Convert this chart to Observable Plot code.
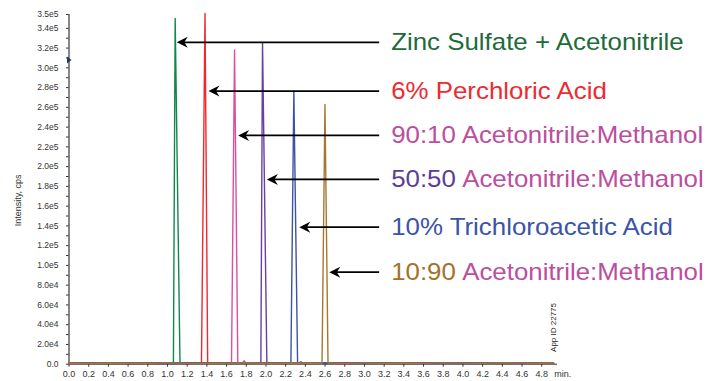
<!DOCTYPE html>
<html><head><meta charset="utf-8">
<script src="https://cdn.jsdelivr.net/npm/d3@7"></script>
<script src="https://cdn.jsdelivr.net/npm/@observablehq/plot@0.6"></script>
<style>body{margin:0;background:#fff}</style>
</head><body><div id="chart"></div>
<script>
// ---- data ----
const seriesNames = ["Zinc Sulfate + Acetonitrile","6% Perchloric Acid","90:10 Acetonitrile:Methanol","50:50 Acetonitrile:Methanol","10% Trichloroacetic Acid","10:90 Acetonitrile:Methanol"];
const lineColors = ["#13874b","#f0282d","#dc4f9e","#6b3fa0","#3b53a4","#a5782e"];
const peakStart  = [1.060, 1.345, 1.650, 1.948, 2.253, 2.569];
const peakApex   = [1.078, 1.381, 1.681, 1.965, 2.283, 2.599];
const peakEnd    = [1.127, 1.408, 1.714, 2.009, 2.321, 2.630];
const peakHeight = [350000, 355000, 318000, 325500, 276000, 263000];
const baseTimes = [0.0,0.2,0.4,0.6,0.8,1.0,1.2,1.4,1.6,1.8,2.0,2.2,2.4,2.6,2.8,3.0,3.2,3.4,3.6,3.8,4.0,4.2,4.4,4.6,4.8,4.92];
const baseNoise = [
  [900,1200,700,1100,1400,800,1000,1300,700,1100,900,1200,800,1000,1300,700,1100,900,1200,800,1000,700,1100,900,1200,800],
  [1300,800,1100,900,1200,1400,700,1000,1200,900,1300,800,1100,1000,700,1200,900,1300,1000,800,1200,1100,800,1300,900,1000],
  [700,1400,1000,1300,800,1100,1500,900,1200,1400,1000,1300,900,1500,1100,1300,800,1400,1100,1500,900,1300,1200,1000,1400,1100],
  [1100,900,1300,700,1000,1200,900,1400,1000,800,1200,1000,1300,800,1200,1000,1300,1100,900,1200,1400,900,1000,1200,800,1100],
  [800,1100,900,1300,1000,700,1200,1000,1300,800,1100,900,700,1200,1000,800,1200,700,1100,1000,800,1200,900,800,1100,900],
  [1000,700,1200,1000,900,1300,800,1100,900,1300,700,1000,1200,900,800,1100,1000,1200,800,1300,1100,1000,1300,1100,900,1200]
];
const bumpSeries = [2, 4];
const bumpTime   = [1.778, 2.355];
const bumpHeight = [3500, 2500];

const labelMain      = ["Zinc Sulfate + Acetonitrile","6% Perchloric Acid","90:10 Acetonitrile:Methanol","50:50","10% Trichloroacetic Acid","10:90"];
const labelMainColor = ["#1e6b3b","#ee2b2f","#bb4f9e","#5b3e96","#3a55a5","#a3712a"];
const labelSuffix    = ["","","","Acetonitrile:Methanol","","Acetonitrile:Methanol"];
const suffixColor = "#bb4f9e";
const arrowTip   = [1.094, 1.416, 1.717, 2.009, 2.338, 2.643];
const arrowLevel = [325800, 276500, 231600, 187000, 138700, 93200];
const arrowTail = 3.149;
const labelTime = 3.271;

const yTickValues = [0,20000,40000,60000,80000,100000,120000,140000,160000,180000,200000,220000,240000,260000,280000,300000,320000,340000,354000];
const yTickLabels = ["0.0","2.0e4","4.0e4","6.0e4","8.0e4","1.0e5","1.2e5","1.4e5","1.6e5","1.8e5","2.0e5","2.2e5","2.4e5","2.6e5","2.8e5","3.0e5","3.2e5","3.4e5","3.5e5"];
const yMinorTicks = [10000,30000,50000,70000,90000,110000,130000,150000,170000,190000,210000,230000,250000,270000,290000,310000,330000];
const xTickValues = [0,0.2,0.4,0.6,0.8,1.0,1.2,1.4,1.6,1.8,2.0,2.2,2.4,2.6,2.8,3.0,3.2,3.4,3.6,3.8,4.0,4.2,4.4,4.6,4.8];
const xTickLabels = ["0.0","0.2","0.4","0.6","0.8","1.0","1.2","1.4","1.6","1.8","2.0","2.2","2.4","2.6","2.8","3.0","3.2","3.4","3.6","3.8","4.0","4.2","4.4","4.6","4.8"];
const xUnit = "min.";
const yTitle = "Intensity, cps";
const appId = "App ID 22775";
const markerLevel = 308000;

// ---- build tables ----
const rows = [];
seriesNames.forEach((name, i) => {
  const pts = baseTimes.map((t, j) => ({t, v: baseNoise[i][j]}))
    .filter(p => p.t < peakStart[i] - 0.03 || p.t > peakEnd[i] + 0.03);
  pts.push({t: peakStart[i], v: 900}, {t: peakApex[i], v: peakHeight[i]}, {t: peakEnd[i], v: 1200});
  bumpSeries.forEach((s, k) => {
    if (s === i) pts.push({t: bumpTime[k] - 0.02, v: 900}, {t: bumpTime[k], v: bumpHeight[k]}, {t: bumpTime[k] + 0.02, v: 900});
  });
  pts.sort((a, b) => a.t - b.t);
  pts.forEach(p => rows.push({name, i, t: p.t, v: p.v}));
});
const arrows = seriesNames.map((name, i) => ({i, tip: arrowTip[i], lvl: arrowLevel[i], main: labelMain[i], suffix: labelSuffix[i]}));

const arrowHead = {draw(ctx) { ctx.moveTo(0, 0); ctx.lineTo(11, -5.5); ctx.lineTo(7.5, 0); ctx.lineTo(11, 5.5); ctx.closePath(); }};
const axisMarker = {draw(ctx) { ctx.moveTo(-2, -3.5); ctx.lineTo(2.5, 0); ctx.lineTo(-2, 3.5); ctx.closePath(); }};

const LABEL_SIZE = 23;
const svg = Plot.plot({
  width: 707, height: 381,
  marginLeft: 68.5, marginRight: 150, marginTop: 14, marginBottom: 17.3,
  style: {fontFamily: "'Liberation Sans', Arial, Helvetica, sans-serif", background: "white", overflow: "visible"},
  x: {domain: [0, 4.96]},
  y: {domain: [0, 354000]},
  marks: [
    Plot.axisY({ticks: yMinorTicks, tickFormat: () => "", tickSize: 2.5, label: null, stroke: "#333"}),
    Plot.axisY({ticks: yTickValues, tickFormat: (d) => yTickLabels[yTickValues.indexOf(d)], tickSize: 2.5, tickPadding: 8, fontSize: 8.5, fill: "#333", stroke: "#333", label: null}),
    Plot.axisX({ticks: xTickValues, tickFormat: (d) => xTickLabels[xTickValues.indexOf(d)], tickSize: 3, tickPadding: 3, fontSize: 9, fill: "#333", stroke: "#333", label: null}),
    Plot.ruleX([0], {y1: 0, y2: 354000, stroke: "#111", strokeWidth: 1}),
    Plot.ruleY([0], {x1: 0, x2: 4.96, stroke: "#333", strokeWidth: 1}),
    Plot.line(rows, {x: "t", y: "v", z: "name", stroke: (d) => lineColors[d.i], strokeWidth: 1.4, curve: "linear"}),
    Plot.link(arrows, {x1: (d) => d.tip + 0.07, x2: arrowTail, y1: "lvl", y2: "lvl", stroke: "#000", strokeWidth: 1.8}),
    Plot.dot(arrows, {x: "tip", y: "lvl", symbol: arrowHead, fill: "#000", stroke: "none", r: 5}),
    Plot.dot([markerLevel], {x: 0, y: (d) => d, symbol: axisMarker, fill: "#2b3566", stroke: "none", r: 3}),
    Plot.text(arrows, {x: labelTime, y: "lvl", text: "main", fill: (d) => labelMainColor[d.i], textAnchor: "start", lineAnchor: "middle", dy: 7.5, fontSize: LABEL_SIZE}),
    Plot.text(arrows.filter(d => d.suffix), {x: labelTime, y: "lvl", text: "suffix", fill: suffixColor, textAnchor: "start", lineAnchor: "middle", dx: 71, dy: 7.5, fontSize: LABEL_SIZE}),
    Plot.text([xUnit], {x: 4.926, y: 0, text: (d) => d, textAnchor: "start", lineAnchor: "top", dy: 6, fontSize: 9, fill: "#333"}),
    Plot.text([yTitle], {frameAnchor: "left", text: (d) => d, rotate: -90, dx: -51, dy: 11, fontSize: 9, fill: "#333", textAnchor: "middle", lineAnchor: "middle"}),
    Plot.text([appId], {x: 4.92, y: 37200, text: (d) => d, rotate: -90, fontSize: 8, fill: "#222", textAnchor: "middle", lineAnchor: "middle"})
  ]
});
// stretch the large series labels horizontally to match the reference type width
const SX = 1.125;
svg.querySelectorAll("g").forEach(g => {
  if (parseFloat(g.getAttribute("font-size")) === LABEL_SIZE) {
    g.querySelectorAll("text").forEach(t => {
      let tr = t.getAttribute("transform") || "";
      if (t.hasAttribute("x") || t.hasAttribute("y")) {
        const x = +t.getAttribute("x") || 0, y = +t.getAttribute("y") || 0;
        t.removeAttribute("x"); t.removeAttribute("y");
        tr = `translate(${x},${y}) ` + tr;
      }
      t.setAttribute("transform", tr + ` scale(${SX},1)`);
    });
  }
});
document.getElementById("chart").appendChild(svg);
</script>
</body></html>
